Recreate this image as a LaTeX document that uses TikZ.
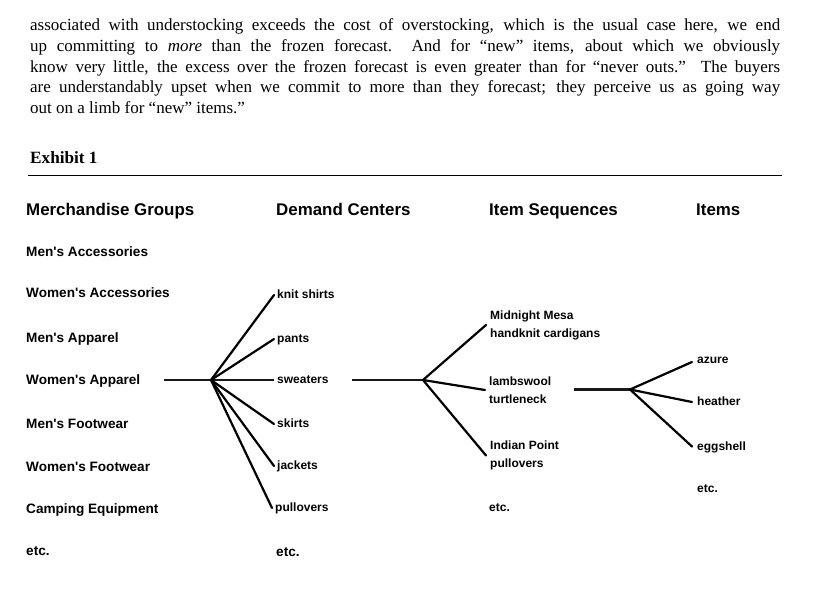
\documentclass[tikz,border=0pt]{standalone}
\usepackage{fontspec}
\setmainfont{Liberation Serif}
\setsansfont{Liberation Sans}[Ligatures=TeXOff]
\usetikzlibrary{positioning}

\begin{document}
\begin{tikzpicture}[
  x=1pt, y=-1pt,
  every node/.style={
    inner sep=0pt,
    text=black
  },
  prose/.style={
    anchor=base west,
    font=\fontsize{17}{20}\selectfont
  },
  head/.style={
    anchor=west,
    font=\sffamily\bfseries\fontsize{16.9}{19}\selectfont,
    text height=12.5pt,
    text depth=0.5pt
  },
  grp/.style={
    anchor=west,
    font=\sffamily\bfseries\fontsize{13.6}{16}\selectfont,
    text height=10pt,
    text depth=0.5pt
  },
  ctr/.style={
    anchor=west,
    inner xsep=3pt,
    font=\sffamily\bfseries\fontsize{12}{18}\selectfont,
    text height=9pt,
    text depth=1.5pt
  },
  seq/.style={
    anchor=west,
    inner xsep=4pt,
    align=left,
    font=\sffamily\bfseries\fontsize{12}{18}\selectfont
  },
  branch/.style={
    draw=black,
    line width=2.2pt,
    line cap=round
  },
  stem/.style={
    draw=black!90,
    line width=2.4pt
  }
]
  \useasboundingbox (0,0) rectangle (817,607);

  % running text above the exhibit
  \node[prose] (par1) at (30,31) {\makebox[750pt][s]{associated with understocking exceeds the cost of overstocking, which is the usual case here, we end}};
  \node[prose] (par2) at (30,51.6) {\makebox[750pt][s]{up committing to \textit{more} than the frozen forecast.\ \ And for “new” items, about which we obviously}};
  \node[prose] (par3) at (30,72.2) {\makebox[750pt][s]{know very little, the excess over the frozen forecast is even greater than for “never outs.”\ \ The buyers}};
  \node[prose] (par4) at (30,92.8) {\makebox[750pt][s]{are understandably upset when we commit to more than they forecast; they perceive us as going way}};
  \node[prose] (par5) at (30,113.4) {out on a limb for “new” items.”};

  \node[prose, font=\bfseries\fontsize{17.2}{20}\selectfont] (exhibit) at (30,164) {Exhibit 1};
  \coordinate (ruleL) at (28,176);
  \coordinate (ruleR) at (782,176);
  \draw[line width=1pt] (ruleL) -- (ruleR);

  % column heads
  \node[head] (hgroups) at (26,209) {Merchandise Groups};
  \node[head] (hcenters) at (276,209) {Demand Centers};
  \node[head] (hsequences) at (489,209) {Item Sequences};
  \node[head] (hitems) at (696,209) {Items};

  % merchandise groups
  \node[grp] (mensacc) at (26,252) {Men's Accessories};
  \node[grp] (womensacc) at (26,293) {Women's Accessories};
  \node[grp] (mensapp) at (26,338) {Men's Apparel};
  \node[grp] (womensapp) at (26,380) {Women's Apparel};
  \node[grp] (mensfoot) at (26,424) {Men's Footwear};
  \node[grp] (womensfoot) at (26,467) {Women's Footwear};
  \node[grp] (camping) at (26,509) {Camping Equipment};
  \node[grp] (grpetc) at (26,551) {etc.};

  % demand centers
  \node[ctr] (knit) at (274,295) {knit shirts};
  \node[ctr] (pants) at (274,339) {pants};
  \node[ctr] (sweaters) at (274,380) {sweaters};
  \node[ctr] (skirts) at (274,424) {skirts};
  \node[ctr] (jackets) at (274,466) {jackets};
  \node[ctr] (pullovers) at (272,508) {pullovers};
  \node[grp] (ctretc) at (276,552) {etc.};

  % item sequences
  \node[seq] (mesa) at (486,325) {Midnight Mesa\\handknit cardigans};
  \node[seq] (lambs) at (485,390) {lambswool\\turtleneck};
  \node[seq] (indian) at (486,455.5) {Indian Point\\pullovers};
  \node[ctr] (seqetc) at (486,508) {etc.};

  % items
  \node[ctr, inner xsep=5pt] (azure) at (692,360) {azure};
  \node[ctr, inner xsep=5pt] (heather) at (692,402) {heather};
  \node[ctr, inner xsep=5pt] (eggshell) at (692,446.5) {eggshell};
  \node[ctr, inner xsep=5pt] (itemetc) at (692,489) {etc.};

  % first fan: apparel into demand centers
  \coordinate (stemA) at (164,380);
  \coordinate (hubA) at (211,380);
  \draw[stem] (stemA) -- (hubA) -- (sweaters.west);
  \draw[branch] (hubA) -- (knit.west);
  \draw[branch] (hubA) -- (pants.west);
  \draw[branch] (hubA) -- (skirts.west);
  \draw[branch] (hubA) -- (jackets.west);
  \draw[branch] (hubA) -- (pullovers.west);

  % second fan: sweaters into item sequences
  \coordinate (stemB) at (352,380);
  \coordinate (hubB) at (423,380);
  \draw[stem] (stemB) -- (hubB);
  \draw[branch] (hubB) -- (mesa.west);
  \draw[branch] (hubB) -- (lambs.west);
  \draw[branch] (hubB) -- (indian.west);

  % third fan: turtleneck into items
  \coordinate (stemC) at (574,389.5);
  \coordinate (hubC) at (630,389.5);
  \draw[stem] (stemC) -- (hubC);
  \draw[branch] (hubC) -- ([yshift=-2pt]azure.west);
  \draw[branch] (hubC) -- (heather.west);
  \draw[branch] (hubC) -- (eggshell.west);
\end{tikzpicture}
\end{document}
